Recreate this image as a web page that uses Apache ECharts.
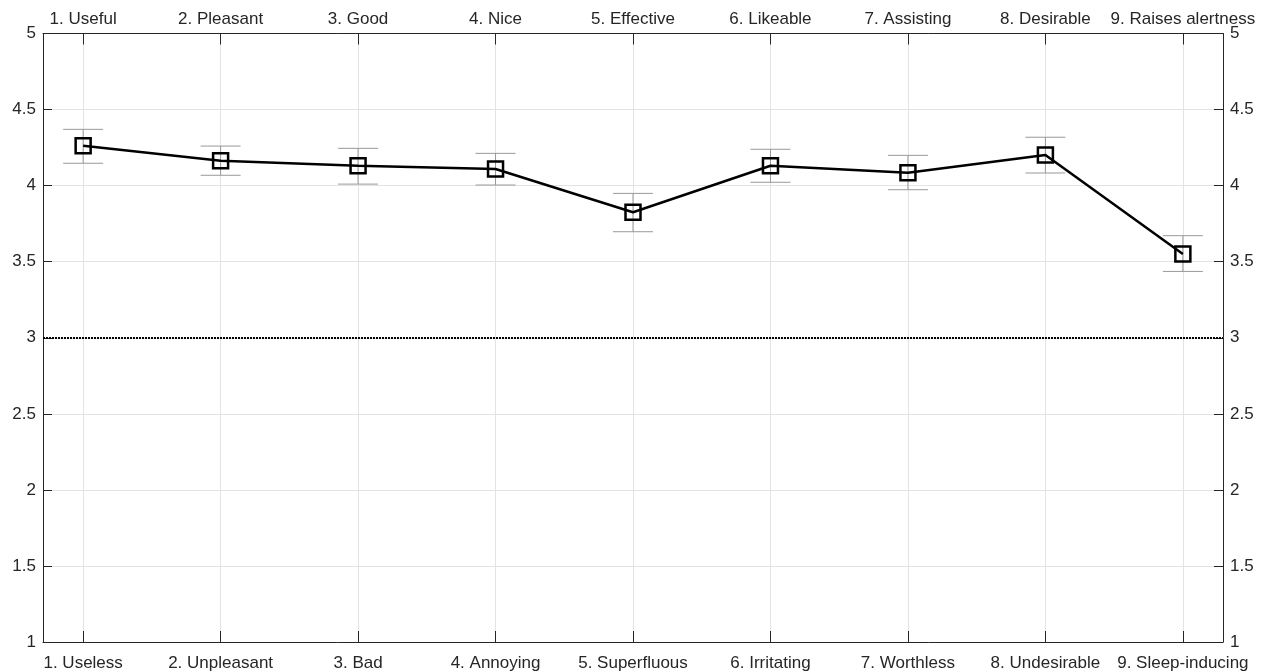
<!DOCTYPE html>
<html>
<head>
<meta charset="utf-8">
<script src="https://cdn.jsdelivr.net/npm/echarts@6/dist/echarts.min.js"></script>
<style>
html,body{margin:0;padding:0;background:#fff;}
#main{width:1270px;height:672px;}
</style>
</head>
<body>
<div id="main"></div>
<script>
const positions = [1, 2, 3, 4, 5, 6, 7, 8, 9];
const topLabels = ['1. Useful', '2. Pleasant', '3. Good', '4. Nice', '5. Effective', '6. Likeable', '7. Assisting', '8. Desirable', '9. Raises alertness'];
const bottomLabels = ['1. Useless', '2. Unpleasant', '3. Bad', '4. Annoying', '5. Superfluous', '6. Irritating', '7. Worthless', '8. Undesirable', '9. Sleep-inducing'];
const means = [4.262, 4.164, 4.131, 4.109, 3.825, 4.131, 4.085, 4.201, 3.550];
const lower = [4.147, 4.068, 4.010, 4.004, 3.697, 4.022, 3.973, 4.083, 3.436];
const upper = [4.370, 4.260, 4.245, 4.212, 3.949, 4.239, 4.199, 4.318, 3.671];
const yTicks = [1, 1.5, 2, 2.5, 3, 3.5, 4, 4.5, 5];
const referenceLevel = 3;

const axisColor = '#262626';
const font = 'Liberation Sans, Arial, sans-serif';

const chart = echarts.init(document.getElementById('main'));

function xAxisDef(pos, labels, showSplit, margin) {
  return {
    type: 'value', position: pos, min: 0.708, max: 9.292,
    axisLine: {show: true, onZero: false, lineStyle: {color: axisColor, width: 1}},
    axisTick: {show: true, inside: true, length: 11, customValues: positions, lineStyle: {color: axisColor, width: 1}},
    axisLabel: {show: true, customValues: positions, margin: margin, color: axisColor, fontFamily: font, fontSize: 17,
      formatter: v => labels[Math.round(v) - 1] || ''},
    splitLine: {show: showSplit, lineStyle: {color: '#e3e3e3', width: 1}}
  };
}
function yAxisDef(pos, showSplit) {
  return {
    type: 'value', position: pos, min: 1, max: 5, interval: 0.5,
    axisLine: {show: true, onZero: false, lineStyle: {color: axisColor, width: 1}},
    axisTick: {show: true, inside: true, length: 9, lineStyle: {color: axisColor, width: 1}},
    axisLabel: {show: true, margin: 7, color: axisColor, fontFamily: font, fontSize: 17,
      formatter: v => String(v)},
    splitLine: {show: showSplit, lineStyle: {color: '#e3e3e3', width: 1}}
  };
}

chart.setOption({
  animation: false,
  backgroundColor: '#fff',
  grid: {left: 43, right: 47, top: 33.5, bottom: 30, containLabel: false},
  xAxis: [xAxisDef('bottom', bottomLabels, true, 13), xAxisDef('top', topLabels, false, 6)],
  yAxis: [yAxisDef('left', true), yAxisDef('right', false)],
  series: [
    {
      type: 'custom', xAxisIndex: 0, yAxisIndex: 0, z: 2,
      data: positions.map((p, i) => [p, lower[i], upper[i]]),
      renderItem: function (params, api) {
        const x = api.value(0);
        const pHi = api.coord([x, api.value(2)]);
        const pLo = api.coord([x, api.value(1)]);
        const w = 20;
        const st = {stroke: '#999999', lineWidth: 1};
        return {type: 'group', children: [
          {type: 'line', shape: {x1: pHi[0], y1: pHi[1], x2: pLo[0], y2: pLo[1]}, style: st},
          {type: 'line', shape: {x1: pHi[0] - w, y1: pHi[1], x2: pHi[0] + w, y2: pHi[1]}, style: st},
          {type: 'line', shape: {x1: pLo[0] - w, y1: pLo[1], x2: pLo[0] + w, y2: pLo[1]}, style: st}
        ]};
      },
      silent: true
    },
    {
      type: 'line', xAxisIndex: 0, yAxisIndex: 0, z: 3,
      data: positions.map((p, i) => [p, means[i]]),
      symbol: 'rect', symbolSize: 15, showAllSymbol: true,
      lineStyle: {color: '#000', width: 2.5},
      itemStyle: {color: 'rgba(0,0,0,0)', borderColor: '#000', borderWidth: 2.5},
      emphasis: {disabled: true},
      markLine: {
        silent: true, symbol: 'none', label: {show: false},
        lineStyle: {color: '#000', width: 2, type: [2, 1]},
        data: [{yAxis: referenceLevel}]
      }
    }
  ]
});
</script>
</body>
</html>
